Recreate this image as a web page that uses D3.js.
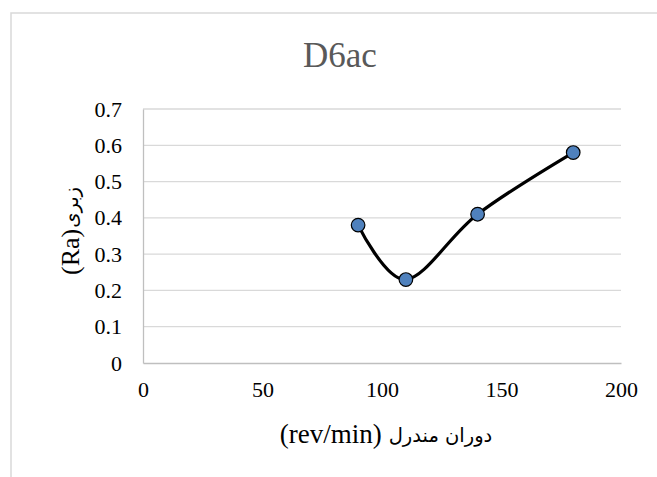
<!DOCTYPE html>
<html>
<head>
<meta charset="utf-8">
<script src="https://cdn.jsdelivr.net/npm/d3@7/dist/d3.min.js"></script>
<style>
html, body { margin: 0; padding: 0; background: #fff; }
svg { display: block; }
</style>
</head>
<body>
<svg id="chart" width="657" height="477"></svg>
<script>
const chartTitle = "D6ac";
const xTitleArabic = "دوران مندرل";
const xTitleUnit = "(rev/min)";
const yTitleArabic = "زبری";
const yTitleUnit = "(Ra)";
const xValues = [90, 110, 140, 180];
const yValues = [0.38, 0.23, 0.41, 0.58];
const xTicks = [0, 50, 100, 150, 200];
const yTicks = [0, 0.1, 0.2, 0.3, 0.4, 0.5, 0.6, 0.7];

const svg = d3.select("#chart");
const W = 657, H = 477;
const plot = { left: 143, right: 621, top: 109, bottom: 363 };

// outer chart border (cropped on right and bottom)
svg.append("rect")
  .attr("x", 11).attr("y", 13)
  .attr("width", W + 20).attr("height", H + 20)
  .attr("fill", "#fff").attr("stroke", "#D9D9D9").attr("stroke-width", 1.5);

const x = d3.scaleLinear().domain([0, 200]).range([plot.left, plot.right]);
const y = d3.scaleLinear().domain([0, 0.7]).range([plot.bottom, plot.top]);

const font = "'Liberation Serif', 'Times New Roman', serif";
const arabicFont = "'DejaVu Sans', sans-serif";

// gridlines
svg.append("g")
  .selectAll("line")
  .data(yTicks.filter(d => d > 0))
  .join("line")
  .attr("x1", plot.left).attr("x2", plot.right)
  .attr("y1", d => y(d)).attr("y2", d => y(d))
  .attr("stroke", "#D9D9D9").attr("stroke-width", 1.3);

// x axis
const xAxis = d3.axisBottom(x).tickValues(xTicks).tickSize(0).tickPadding(18).tickFormat(d3.format("d"));
const gx = svg.append("g").attr("transform", `translate(0,${plot.bottom})`).call(xAxis);
gx.select(".domain").attr("stroke", "#BFBFBF").attr("stroke-width", 1.3);
gx.selectAll("text").attr("font-family", font).attr("font-size", 22).attr("fill", "#000");

// y axis
const yAxis = d3.axisLeft(y).tickValues(yTicks).tickSize(0).tickPadding(21).tickFormat(d => d === 0 ? "0" : d3.format(".1f")(d));
const gy = svg.append("g").attr("transform", `translate(${plot.left},0)`).call(yAxis);
gy.select(".domain").attr("stroke", "#BFBFBF").attr("stroke-width", 1.3);
gy.selectAll("text").attr("font-family", font).attr("font-size", 22).attr("fill", "#000");

// title
svg.append("text")
  .attr("x", 340).attr("y", 67)
  .attr("text-anchor", "middle")
  .attr("font-family", font).attr("font-size", 35)
  .attr("fill", "#595959")
  .text(chartTitle);

// two-part label: Latin unit on the visual left, Arabic words on the visual right
function twoPartLabel(g, unit, arabic, gap, unitSize, arabicSize, arabicDy) {
  const t1 = g.append("text")
    .attr("x", 0).attr("y", 0)
    .attr("font-family", font).attr("font-size", unitSize)
    .attr("fill", "#000").text(unit);
  const w1 = t1.node().getComputedTextLength();
  const t2 = g.append("text")
    .attr("x", w1 + gap).attr("y", arabicDy)
    .attr("font-family", arabicFont).attr("font-size", arabicSize)
    .attr("fill", "#000").text(arabic);
  const w2 = t2.node().getComputedTextLength();
  const total = w1 + gap + w2;
  t1.attr("x", -total / 2);
  t2.attr("x", -total / 2 + w1 + gap);
}

// x axis title
const gxt = svg.append("g").attr("transform", `translate(386, 443)`);
twoPartLabel(gxt, xTitleUnit, xTitleArabic, 7, 27, 19.5, -1);

// y axis title
const gyt = svg.append("g").attr("transform", `translate(79, 231) rotate(-90)`);
twoPartLabel(gyt, yTitleUnit, yTitleArabic, 1, 26, 19.5, -1);

// data
const data = xValues.map((v, i) => ({ x: v, y: yValues[i] }));
const line = d3.line().x(d => x(d.x)).y(d => y(d.y)).curve(d3.curveCardinal.tension(0));
svg.append("path")
  .datum(data)
  .attr("d", line)
  .attr("fill", "none")
  .attr("stroke", "#000")
  .attr("stroke-width", 3.2)
  .attr("stroke-linejoin", "round");

svg.append("g")
  .selectAll("circle")
  .data(data)
  .join("circle")
  .attr("cx", d => x(d.x)).attr("cy", d => y(d.y))
  .attr("r", 6.8)
  .attr("fill", "#4F81BD")
  .attr("stroke", "#000").attr("stroke-width", 1.2);
</script>
</body>
</html>
